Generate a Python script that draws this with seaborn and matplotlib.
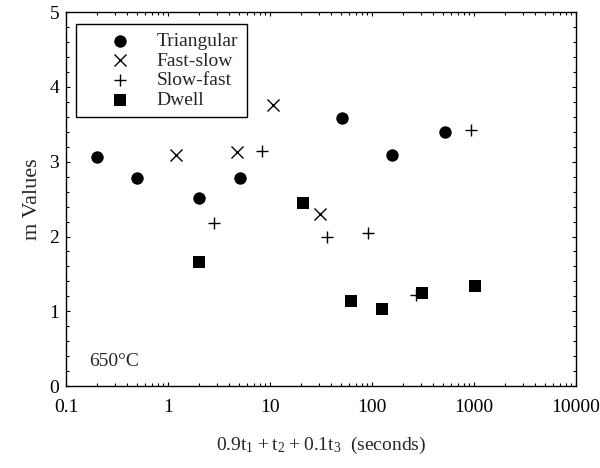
import numpy as np
import pandas as pd
import seaborn as sns
from matplotlib import pyplot as plt
from matplotlib.ticker import LogLocator, MultipleLocator, FixedLocator, FixedFormatter

# Values
tri_x = [0.2, 0.5, 2.0, 5.1, 51, 156, 517]
tri_y = [3.06, 2.78, 2.51, 2.78, 3.58, 3.09, 3.40]
fs_x = [1.2, 4.8, 10.8, 31]
fs_y = [3.09, 3.13, 3.76, 2.30]
sf_x = [2.8, 8.4, 36, 91, 268, 931]
sf_y = [2.18, 3.14, 1.99, 2.05, 1.22, 3.42]
dw_x = [2.0, 21, 62, 124, 307, 1018]
dw_y = [1.66, 2.45, 1.14, 1.03, 1.24, 1.34]

labels = ['Triangular', 'Fast-slow', 'Slow-fast', 'Dwell']
x_ticks = [0.1, 1, 10, 100, 1000, 10000]
x_tick_labels = ['0.1', '1', '10', '100', '1000', '10000']

# Build one long table for seaborn
df = pd.concat([
    pd.DataFrame({'x': tri_x, 'y': tri_y, 'type': labels[0]}),
    pd.DataFrame({'x': fs_x, 'y': fs_y, 'type': labels[1]}),
    pd.DataFrame({'x': sf_x, 'y': sf_y, 'type': labels[2]}),
    pd.DataFrame({'x': dw_x, 'y': dw_y, 'type': labels[3]}),
], ignore_index=True)

sns.set_style('ticks')
plt.rcParams['font.family'] = ['Liberation Serif', 'DejaVu Serif']
plt.rcParams['mathtext.fontset'] = 'custom'
plt.rcParams['mathtext.rm'] = 'Liberation Serif'

fig = plt.figure(figsize=(6, 4.68), dpi=100)
ax = fig.add_axes([0.11, 0.175, 0.85, 0.799])

markers = {'Triangular': 'o', 'Fast-slow': 'x', 'Slow-fast': '+', 'Dwell': 's'}
sizes = {'Triangular': 80, 'Fast-slow': 75, 'Slow-fast': 85, 'Dwell': 65}
for name in labels:
    sub = df[df['type'] == name]
    sns.scatterplot(data=sub, x='x', y='y', marker=markers[name], color='black',
                    s=sizes[name], linewidth=1.0 if name in ('Fast-slow', 'Slow-fast') else 0,
                    label=name, ax=ax)

ax.set_xscale('log')
ax.set_xlim(0.1, 10000)
ax.set_ylim(0, 5)
ax.xaxis.set_major_locator(FixedLocator(x_ticks))
ax.xaxis.set_major_formatter(FixedFormatter(x_tick_labels))
ax.xaxis.set_minor_locator(LogLocator(base=10, subs=np.arange(2, 10)))
ax.yaxis.set_major_locator(MultipleLocator(1))
ax.yaxis.set_minor_locator(MultipleLocator(0.2))
ax.tick_params(which='both', direction='in', top=True, right=True, labelsize=14,
               color='black', labelcolor='black')
ax.tick_params(which='major', length=3, width=0.8)
ax.tick_params(which='minor', length=2, width=0.8)
ax.tick_params(axis='x', which='major', pad=9)
ax.tick_params(axis='y', which='major', pad=5)
for sp in ax.spines.values():
    sp.set_color('black')
    sp.set_linewidth(1.0)

ax.set_xlabel(r'$\mathregular{0.9t_1 + t_2 + 0.1t_3}$  (seconds)', fontsize=14, labelpad=14)
ax.set_ylabel('m Values', fontsize=16, labelpad=5)
ax.text(0.045, 0.055, '650°C', transform=ax.transAxes, fontsize=14)

leg = ax.legend(loc='upper left', bbox_to_anchor=(0.008, 0.985), frameon=True, fancybox=False,
                edgecolor='black', fontsize=14, handletextpad=0.1, borderpad=0.45,
                labelspacing=0.1, borderaxespad=0.3, handlelength=3.6)
leg.get_frame().set_linewidth(1.0)
leg.get_frame().set_alpha(1)

fig.savefig('out.png', dpi=100)
